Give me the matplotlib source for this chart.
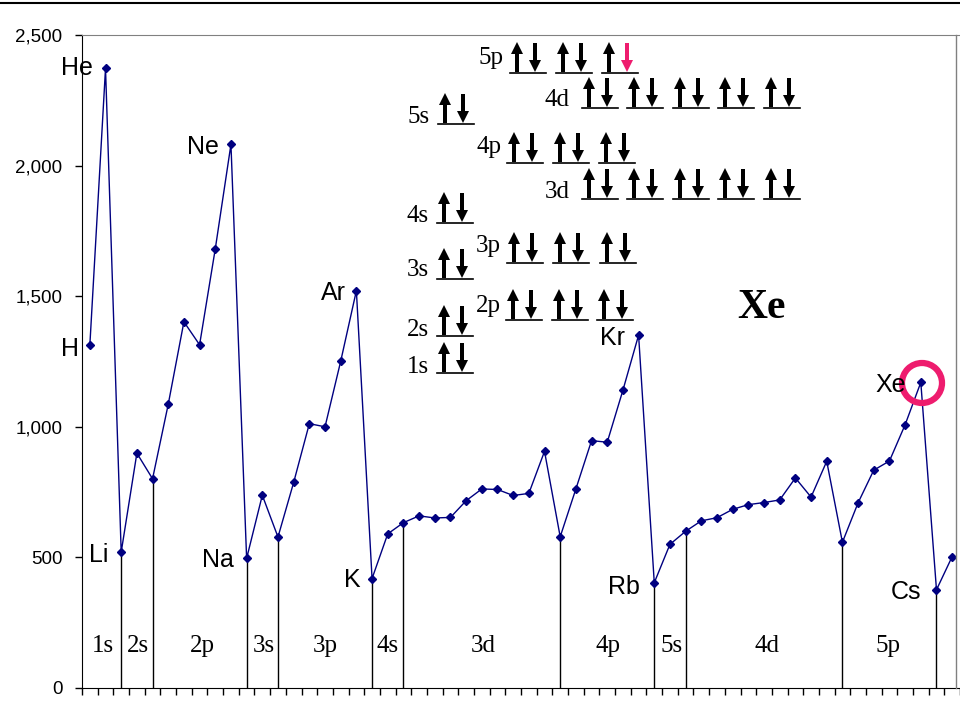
import matplotlib
matplotlib.use('Agg')
import matplotlib.pyplot as plt
import numpy as np
from matplotlib.patches import Circle, FancyArrow
from matplotlib.ticker import FuncFormatter

# ---------------- data ----------------
elements = ['H', 'He', 'Li', 'Be', 'B', 'C', 'N', 'O', 'F', 'Ne',
            'Na', 'Mg', 'Al', 'Si', 'P', 'S', 'Cl', 'Ar', 'K', 'Ca',
            'Sc', 'Ti', 'V', 'Cr', 'Mn', 'Fe', 'Co', 'Ni', 'Cu', 'Zn',
            'Ga', 'Ge', 'As', 'Se', 'Br', 'Kr', 'Rb', 'Sr', 'Y', 'Zr',
            'Nb', 'Mo', 'Tc', 'Ru', 'Rh', 'Pd', 'Ag', 'Cd', 'In', 'Sn',
            'Sb', 'Te', 'I', 'Xe', 'Cs', 'Ba']
ionization_energy = [1312, 2372, 520, 899, 801, 1086, 1402, 1314, 1681, 2081,
                     496, 738, 578, 787, 1012, 1000, 1251, 1521, 419, 590,
                     633, 659, 651, 653, 717, 762, 760, 737, 745, 906,
                     579, 762, 947, 941, 1140, 1351, 403, 550, 600, 640,
                     652, 684, 702, 710, 720, 804, 731, 868, 558, 709,
                     834, 869, 1008, 1170, 376, 503]
drop_line_elements = ['Li', 'B', 'Na', 'Al', 'K', 'Sc', 'Ga', 'Rb', 'Y', 'In', 'Cs']
y_ticks = [0, 500, 1000, 1500, 2000, 2500]

# element name labels (text, pixel centre x, y)
element_labels = [('H', 70, 349), ('He', 77, 68), ('Ne', 203, 147), ('Li', 99, 555),
                  ('Na', 218, 560), ('Ar', 333, 293), ('K', 352, 580), ('Kr', 613, 338),
                  ('Rb', 624, 587), ('Xe', 891, 385), ('Cs', 906, 592)]
# subshell block labels along the bottom (text, pixel centre x)
block_labels = [('1s', 103), ('2s', 138), ('2p', 202), ('3s', 264), ('3p', 325),
                ('4s', 388), ('3d', 483), ('4p', 608), ('5s', 672), ('4d', 767), ('5p', 888)]
# orbital diagram: (label, label x, label y, [box left x], underline y)
orbitals = [
    ('5p', 491, 58, [510, 556, 602], 73),
    ('4d', 557, 100, [582, 627, 673, 718, 764], 108),
    ('5s', 419, 117, [438], 124),
    ('4p', 489, 147, [507, 553, 599], 163),
    ('3d', 557, 192, [582, 627, 673, 718, 764], 199),
    ('4s', 418, 216, [437], 223),
    ('3p', 488, 246, [507, 553, 600], 263),
    ('3s', 418, 270, [437], 279),
    ('2p', 488, 306, [506, 552, 597], 320),
    ('2s', 418, 330, [437], 336),
    ('1s', 418, 367, [437], 373),
]

W, H = 960, 720
fig = plt.figure(figsize=(9.6, 7.2), dpi=100)
fig.patch.set_facecolor('white')

ax = fig.add_axes([82 / W, 32 / H, (960 - 82) / W, 653 / H])
x = np.arange(1, len(elements) + 1)
ax.plot(x, ionization_energy, color='#000080', lw=1, marker='D', ms=3.8,
        markerfacecolor='#000080', markeredgecolor='#000080', zorder=3)
for el in drop_line_elements:
    i = elements.index(el)
    ax.vlines(x[i], 0, ionization_energy[i], color='black', lw=1, zorder=2)

ax.set_xlim(0.5, len(elements) + 0.5)
ax.set_ylim(0, 2500)
ax.set_xticks(np.arange(0.5, len(elements) + 1, 1))
ax.set_xticklabels([])
ax.tick_params(axis='x', direction='out', length=5, width=1, color='black')
ax.set_yticks(y_ticks)
ax.yaxis.set_major_formatter(FuncFormatter(lambda v, p: f'{int(v):,}'))
ax.tick_params(axis='y', direction='out', length=5, width=1, pad=9, labelsize=13.5)
for lab in ax.get_yticklabels():
    lab.set_fontfamily('Liberation Sans')
ax.spines['left'].set_color('black')
ax.spines['bottom'].set_color('black')
ax.spines['top'].set_color('#808080')
ax.spines['right'].set_visible(False)

# overlay in pixel coordinates for annotations
ov = fig.add_axes([0, 0, 1, 1], zorder=5)
ov.set_xlim(0, W)
ov.set_ylim(H, 0)
ov.axis('off')
ov.patch.set_alpha(0)

ov.plot([0, W], [3, 3], color='black', lw=1.5)
ov.plot([956, 956], [35, 688], color='#808080', lw=1)

for t, px, py in element_labels:
    ov.text(px, py, t, ha='center', va='center', fontsize=18,
            family='Liberation Sans', color='black')

for t, px in block_labels:
    ov.text(px, 652, t, ha='center', va='baseline', fontsize=18,
            family='Liberation Serif', color='black')

pink = '#EE1C6E'
for lab, lx, ly, boxes, uy in orbitals:
    ov.text(lx, ly, lab, ha='center', va='center', fontsize=18,
            family='Liberation Serif', color='black')
    for bi, bx in enumerate(boxes):
        ov.plot([bx, bx + 36], [uy, uy], color='black', lw=1.2)
        ov.add_patch(FancyArrow(bx + 7, uy - 1, 0, -30, width=4, head_width=12,
                                head_length=12, length_includes_head=True,
                                color='black', lw=0))
        dcol = pink if (lab == '5p' and bi == len(boxes) - 1) else 'black'
        ov.add_patch(FancyArrow(bx + 25, uy - 30, 0, 29, width=4, head_width=12,
                                head_length=12, length_includes_head=True,
                                color=dcol, lw=0))

ov.text(762, 308, 'Xe', ha='center', va='center', fontsize=30, fontweight='bold',
        family='Liberation Serif', color='black')

ov.add_patch(Circle((922, 383), 20, fill=False, edgecolor=pink, lw=4.5))

fig.savefig('out.png', dpi=100)
